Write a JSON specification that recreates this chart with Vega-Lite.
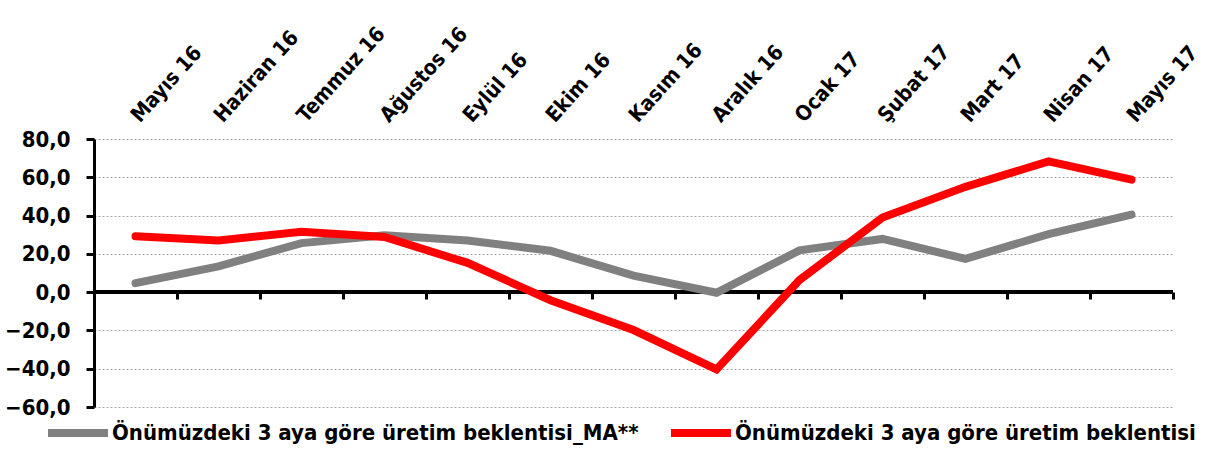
{
  "$schema": "https://vega.github.io/schema/vega-lite/v6.json",
  "width": 1079,
  "height": 268,
  "autosize": {"type": "none"},
  "padding": {"left": 94, "top": 139, "right": 46, "bottom": 55},
  "background": "white",
  "data": {
    "values": [
      {"ay": "Mayıs 16", "seri": "Önümüzdeki 3 aya göre üretim beklentisi_MA**", "deger": 4.7},
      {"ay": "Haziran 16", "seri": "Önümüzdeki 3 aya göre üretim beklentisi_MA**", "deger": 13.5},
      {"ay": "Temmuz 16", "seri": "Önümüzdeki 3 aya göre üretim beklentisi_MA**", "deger": 25.6},
      {"ay": "Ağustos 16", "seri": "Önümüzdeki 3 aya göre üretim beklentisi_MA**", "deger": 29.7},
      {"ay": "Eylül 16", "seri": "Önümüzdeki 3 aya göre üretim beklentisi_MA**", "deger": 27.0},
      {"ay": "Ekim 16", "seri": "Önümüzdeki 3 aya göre üretim beklentisi_MA**", "deger": 21.6},
      {"ay": "Kasım 16", "seri": "Önümüzdeki 3 aya göre üretim beklentisi_MA**", "deger": 8.6},
      {"ay": "Aralık 16", "seri": "Önümüzdeki 3 aya göre üretim beklentisi_MA**", "deger": -0.3},
      {"ay": "Ocak 17", "seri": "Önümüzdeki 3 aya göre üretim beklentisi_MA**", "deger": 21.8},
      {"ay": "Şubat 17", "seri": "Önümüzdeki 3 aya göre üretim beklentisi_MA**", "deger": 27.8},
      {"ay": "Mart 17", "seri": "Önümüzdeki 3 aya göre üretim beklentisi_MA**", "deger": 17.4},
      {"ay": "Nisan 17", "seri": "Önümüzdeki 3 aya göre üretim beklentisi_MA**", "deger": 30.3},
      {"ay": "Mayıs 17", "seri": "Önümüzdeki 3 aya göre üretim beklentisi_MA**", "deger": 40.5},
      {"ay": "Mayıs 16", "seri": "Önümüzdeki 3 aya göre üretim beklentisi", "deger": 29.2},
      {"ay": "Haziran 16", "seri": "Önümüzdeki 3 aya göre üretim beklentisi", "deger": 27.0},
      {"ay": "Temmuz 16", "seri": "Önümüzdeki 3 aya göre üretim beklentisi", "deger": 31.5},
      {"ay": "Ağustos 16", "seri": "Önümüzdeki 3 aya göre üretim beklentisi", "deger": 28.8},
      {"ay": "Eylül 16", "seri": "Önümüzdeki 3 aya göre üretim beklentisi", "deger": 15.3},
      {"ay": "Ekim 16", "seri": "Önümüzdeki 3 aya göre üretim beklentisi", "deger": -4.2},
      {"ay": "Kasım 16", "seri": "Önümüzdeki 3 aya göre üretim beklentisi", "deger": -19.8},
      {"ay": "Aralık 16", "seri": "Önümüzdeki 3 aya göre üretim beklentisi", "deger": -40.4},
      {"ay": "Ocak 17", "seri": "Önümüzdeki 3 aya göre üretim beklentisi", "deger": 6.3},
      {"ay": "Şubat 17", "seri": "Önümüzdeki 3 aya göre üretim beklentisi", "deger": 39.0},
      {"ay": "Mart 17", "seri": "Önümüzdeki 3 aya göre üretim beklentisi", "deger": 55.0},
      {"ay": "Nisan 17", "seri": "Önümüzdeki 3 aya göre üretim beklentisi", "deger": 68.3},
      {"ay": "Mayıs 17", "seri": "Önümüzdeki 3 aya göre üretim beklentisi", "deger": 58.8}
    ]
  },
  "config": {
    "view": {"stroke": null},
    "font": "DejaVu Sans Condensed",
    "axisY": {
      "values": [-60, -40, -20, 0, 20, 40, 60, 80],
      "tickCount": 10,
      "labelExpr": "replace(format(datum.value, '.1f'), '.', ',')",
      "labelOverlap": false, "labelFlush": false,
      "title": null, "domainColor": "black", "domainWidth": 3,
      "tickColor": "black", "tickWidth": 3, "tickSize": 8,
      "labelFontSize": 22, "labelFontWeight": "bold", "labelColor": "black",
      "labelPadding": 16,
      "grid": true, "gridColor": "#a6a6a6", "gridDash": [2, 2], "gridWidth": 1
    }
  },
  "resolve": {"axis": {"x": "independent"}},
  "layer": [
    {
      "mark": {"type": "point", "opacity": 0},
      "encoding": {
        "x": {
          "field": "ay", "type": "nominal", "sort": null,
          "axis": {
            "orient": "bottom", "offset": -115, "labels": false, "domain": false,
            "ticks": true, "tickBand": "extent", "tickSize": 7, "tickWidth": 3,
            "tickColor": "black", "grid": false, "title": null
          }
        },
        "y": {
          "field": "deger", "type": "quantitative", "scale": {"domain": [-60, 80]},
          "axis": {"values": [-60, -40, -20, 0, 20, 40, 60, 80], "tickCount": 10, "labelOverlap": false, "title": null}
        }
      }
    },
    {
      "mark": {"type": "rule", "color": "black", "strokeWidth": 3},
      "encoding": {"y": {"datum": 0}}
    },
    {
      "mark": {"type": "line", "strokeWidth": 8, "strokeCap": "round", "strokeJoin": "miter"},
      "encoding": {
        "x": {
          "field": "ay", "type": "nominal", "sort": null,
          "axis": {
            "orient": "top", "domain": false, "ticks": false, "tickSize": 0, "grid": false,
            "title": null, "labelAngle": -48, "labelAlign": "left", "labelBaseline": "middle",
            "labelPadding": 20, "labelFontSize": 21, "labelFontWeight": "bold",
            "labelColor": "black", "labelLimit": 300
          }
        },
        "y": {
          "field": "deger", "type": "quantitative",
          "axis": {"values": [-60, -40, -20, 0, 20, 40, 60, 80], "tickCount": 10, "labelOverlap": false, "title": null}
        },
        "color": {
          "field": "seri", "type": "nominal",
          "scale": {
            "domain": ["Önümüzdeki 3 aya göre üretim beklentisi_MA**", "Önümüzdeki 3 aya göre üretim beklentisi"],
            "range": ["#808080", "#ff0000"]
          },
          "legend": {
            "title": null, "orient": "none", "direction": "horizontal",
            "legendX": -50, "legendY": 260, "symbolType": "stroke",
            "symbolSize": 3600, "symbolStrokeWidth": 8,
            "labelFontSize": 22, "labelFontWeight": "bold", "labelColor": "black",
            "labelLimit": 700, "labelOffset": 0, "columnPadding": 16, "padding": 0
          }
        },
        "order": {"field": "seri", "sort": "descending"}
      }
    }
  ]
}
